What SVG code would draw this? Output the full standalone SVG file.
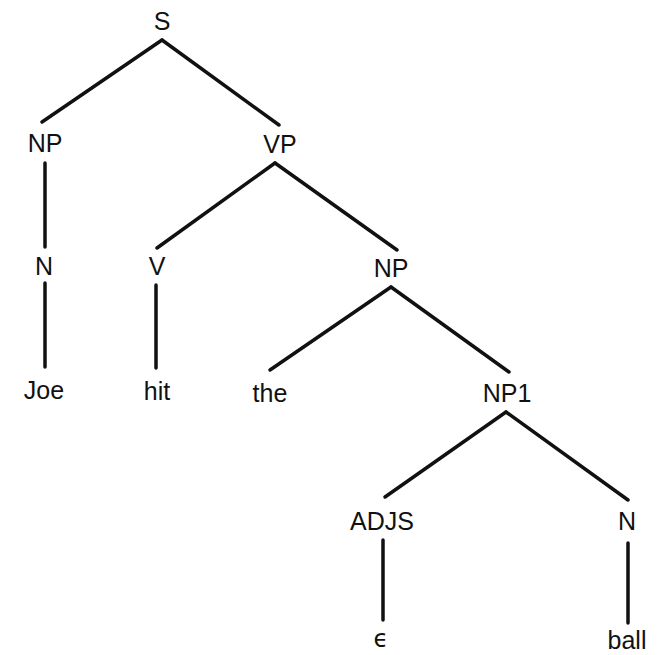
<svg xmlns="http://www.w3.org/2000/svg" width="657" height="655" viewBox="0 0 657 655">
<style>
.lbl{font-family:"Liberation Sans",Arial,sans-serif;font-size:25px;fill:#111;text-anchor:middle}
.edges line{stroke:#111;stroke-width:3.5;stroke-linecap:round}
</style>
<rect width="657" height="655" fill="#fff"/>
<g class="edges" id="connectors">
<line x1="162" y1="40" x2="42" y2="122"/>
<line x1="162" y1="40" x2="279" y2="125"/>
<line x1="45" y1="163" x2="45" y2="247"/>
<line x1="45" y1="283" x2="45" y2="367"/>
<line x1="275" y1="163" x2="157" y2="248"/>
<line x1="275" y1="163" x2="397" y2="250"/>
<line x1="156" y1="285" x2="156" y2="368"/>
<line x1="391" y1="287" x2="270" y2="370"/>
<line x1="391" y1="287" x2="509" y2="372"/>
<line x1="506" y1="412" x2="385" y2="497"/>
<line x1="506" y1="412" x2="628" y2="500"/>
<line x1="383" y1="540" x2="383" y2="620"/>
<line x1="628" y1="543" x2="628" y2="623"/>
</g>
<g id="n-S"><text class="lbl" x="162" y="30">S</text></g>
<g id="n-NP"><text class="lbl" x="45" y="152">NP</text></g>
<g id="n-VP"><text class="lbl" x="280" y="153">VP</text></g>
<g id="n-N1"><text class="lbl" x="44" y="275">N</text></g>
<g id="n-V"><text class="lbl" x="157" y="275">V</text></g>
<g id="n-NP2"><text class="lbl" x="391" y="277">NP</text></g>
<g id="n-Joe"><text class="lbl" x="44" y="399">Joe</text></g>
<g id="n-hit"><text class="lbl" x="157" y="400">hit</text></g>
<g id="n-the"><text class="lbl" x="270" y="402">the</text></g>
<g id="n-NP1"><text class="lbl" x="507" y="402">NP1</text></g>
<g id="n-ADJS"><text class="lbl" x="382" y="530">ADJS</text></g>
<g id="n-N2"><text class="lbl" x="627" y="530">N</text></g>
<g id="n-eps"><text class="lbl" x="381" y="647" style="font-family:'DejaVu Sans',sans-serif;font-size:24px">ϵ</text></g>
<g id="n-ball"><text class="lbl" x="627" y="649">ball</text></g>
</svg>
